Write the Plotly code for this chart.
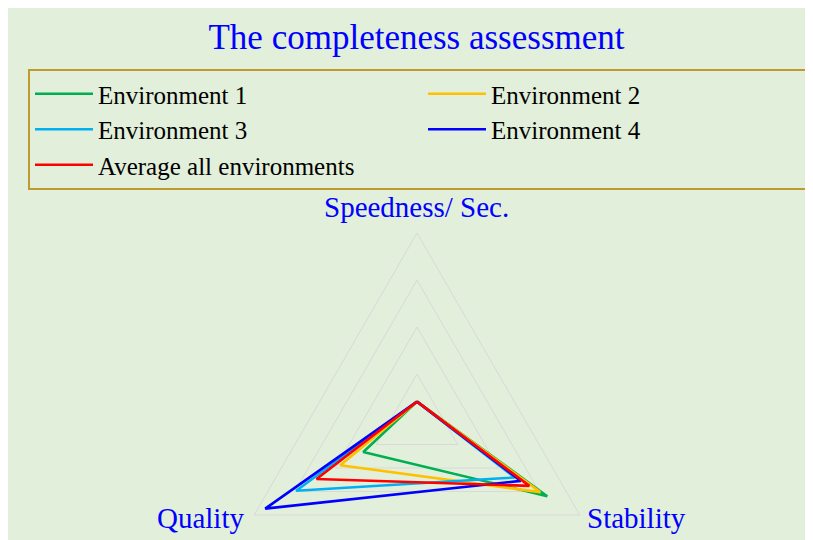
import plotly.graph_objects as go

categories = ["Speedness/ Sec.", "Stability", "Quality"]
series_names = ["Environment 1", "Environment 2", "Environment 3", "Environment 4",
                "Average all environments"]
env1 = [0.103, 0.80, 0.33]
env2 = [0.103, 0.757, 0.471]
env3 = [0.103, 0.60, 0.742]
env4 = [0.103, 0.637, 0.932]
avg_all = [0.103, 0.69, 0.617]
series_values = [env1, env2, env3, env4, avg_all]
colors = ["#00B050", "#FFC000", "#00B0F0", "#0000FF", "#FF0000"]
radial_ticks = [0.25, 0.5, 0.75, 1.0]

# The radar's lower corners sit near the bottom of the window, so the figure is
# made taller than the window; the part shown in the window matches the chart.
W, H = 813, 620
fig = go.Figure()
for name, vals, col in zip(series_names, series_values, colors):
    fig.add_trace(go.Scatterpolar(
        r=vals + vals[:1], theta=categories + categories[:1],
        mode="lines", name=name, line=dict(color=col, width=2.6),
        hoverinfo="skip"))

# polar geometry in figure px: center (409, 413), outer radius 188
cx, cy, R = 409, 413, 188
label_pos = {"Speedness/ Sec.": (409, 199), "Stability": (628, 510), "Quality": (192, 510)}
annotations = [dict(text=c, x=label_pos[c][0] / W, y=1 - label_pos[c][1] / H,
                    xref="paper", yref="paper", xanchor="center", yanchor="middle",
                    showarrow=False,
                    font=dict(family="Liberation Serif", size=29, color="#0000FF"))
               for c in categories]

fig.update_layout(
    width=W, height=H, margin=dict(l=0, r=0, t=0, b=0),
    paper_bgcolor="#E2EFDA",
    font=dict(family="Liberation Serif"),
    title=dict(text="The completeness assessment", x=408.5 / W, xanchor="center",
               y=1 - 29 / H, yanchor="middle", yref="paper",
               font=dict(family="Liberation Serif", size=35, color="#0000FF")),
    legend=dict(orientation="h", x=20 / W, y=1 - 61 / H, xanchor="left", yanchor="top",
                bordercolor="#C09A2E", borderwidth=2, bgcolor="rgba(0,0,0,0)",
                font=dict(family="Liberation Serif", size=25, color="black"),
                entrywidth=320, itemwidth=58, traceorder="normal"),
    annotations=annotations,
    polar=dict(
        domain=dict(x=[(cx - R) / W, (cx + R) / W], y=[1 - (cy + R) / H, 1 - (cy - R) / H]),
        gridshape="linear",
        bgcolor="rgba(0,0,0,0)",
        radialaxis=dict(range=[0, 1], tickvals=radial_ticks, showticklabels=False,
                        ticks="", showline=False, gridcolor="#D9D9D9", gridwidth=1),
        angularaxis=dict(rotation=90, direction="clockwise", showgrid=False,
                         showline=True, linecolor="#D9D9D9", linewidth=1, ticks="",
                         showticklabels=False),
    ),
)
fig.write_html("out.html")
